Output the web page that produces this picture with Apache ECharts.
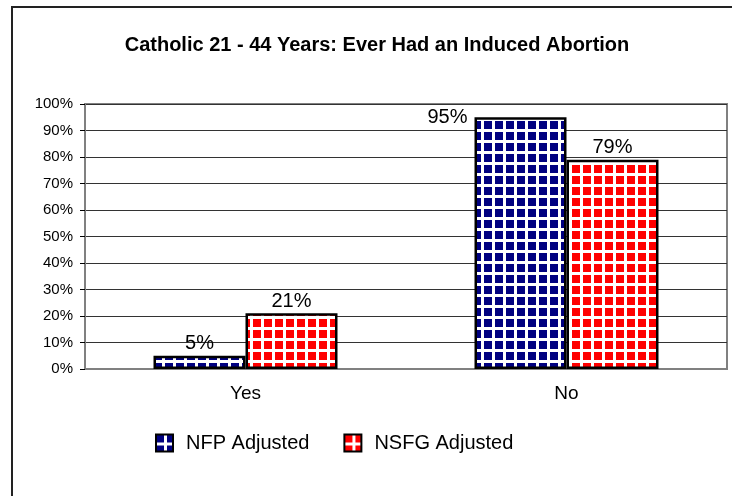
<!DOCTYPE html>
<html>
<head>
<meta charset="utf-8">
<script src="https://cdn.jsdelivr.net/npm/echarts@6/dist/echarts.min.js"></script>
<style>
  html, body { margin: 0; padding: 0; background: #fff; }
  #chart { width: 732px; height: 496px; }
</style>
</head>
<body>
<div id="chart"></div>
<script>
// data
var categories = ['Yes', 'No'];
var nfpAdjusted = [5, 95];
var nsfgAdjusted = [21, 79];
var yTicks = [0, 10, 20, 30, 40, 50, 60, 70, 80, 90, 100];

// small tiled square pattern like the old Excel fill
function makePattern (color) {
    var c = document.createElement('canvas')
    c.width = 11
    c.height = 11
    var ctx = c.getContext('2d')
    ctx.fillStyle = '#ffffff'
    ctx.fillRect(0, 0, 11, 11)
    ctx.fillStyle = color
    ctx.fillRect(0, 0, 8, 8)
    return { image: c, repeat: 'repeat' }
}

var font = 'Liberation Sans, Arial, sans-serif'
var chart = echarts.init(document.getElementById('chart'), null, { renderer: 'canvas' })

chart.setOption({
    animation: false,
    backgroundColor: '#fff',
    textStyle: { fontFamily: font, color: '#000' },
    title: {
        text: 'Catholic 21 - 44 Years: Ever Had an Induced Abortion',
        left: 372,
        textAlign: 'center',
        top: 30,
        textStyle: { fontFamily: font, fontSize: 20, fontWeight: 'bold', color: '#000' }
    },
    graphic: [{
        type: 'rect',
        shape: { x: 12, y: 7, width: 760, height: 520 },
        style: { fill: 'none', stroke: '#222', lineWidth: 2 },
        silent: true,
        z: -1
    }],
    legend: {
        left: 150,
        top: 428,
        itemWidth: 17,
        itemHeight: 17,
        itemGap: 34,
        icon: 'rect',
        textStyle: { fontFamily: font, fontSize: 20, color: '#000', padding: [0, 0, 0, 8] },
        data: ['NFP Adjusted', 'NSFG Adjusted']
    },
    grid: {
        left: 85,
        right: 5,
        top: 104,
        bottom: 127,
        show: true,
        borderColor: '#808080',
        borderWidth: 2,
        containLabel: false
    },
    xAxis: {
        type: 'category',
        data: categories,
        axisTick: { show: false },
        axisLine: { lineStyle: { color: '#808080', width: 2 } },
        axisLabel: { fontFamily: font, fontSize: 19, color: '#000', margin: 15 }
    },
    yAxis: {
        type: 'value',
        min: yTicks[0],
        max: yTicks[yTicks.length - 1],
        interval: 10,
        axisLine: { show: true, lineStyle: { color: '#808080', width: 2 } },
        axisTick: { show: true, length: 5, lineStyle: { color: '#000' } },
        splitLine: { lineStyle: { color: '#333', width: 1 } },
        axisLabel: { fontFamily: font, fontSize: 15, color: '#000', margin: 12, formatter: '{value}%' }
    },
    series: [
        {
            name: 'NFP Adjusted',
            type: 'bar',
            barWidth: 92,
            barGap: '0%',
            itemStyle: { color: makePattern('#000080'), borderColor: '#000', borderWidth: 2.5 },
            label: {
                show: true,
                position: 'top',
                distance: 2,
                fontFamily: font,
                fontSize: 20,
                color: '#000',
                formatter: '{c}%'
            },
            data: nfpAdjusted.map(function (v, i) {
                if (v > 90) {
                    return {
                        value: v,
                        label: { position: [-7, 0], align: 'right', verticalAlign: 'middle' }
                    }
                }
                return v
            })
        },
        {
            name: 'NSFG Adjusted',
            type: 'bar',
            barWidth: 92,
            barGap: '0%',
            itemStyle: { color: makePattern('#ff0000'), borderColor: '#000', borderWidth: 2.5 },
            label: {
                show: true,
                position: 'top',
                distance: 2,
                fontFamily: font,
                fontSize: 20,
                color: '#000',
                formatter: '{c}%'
            },
            data: nsfgAdjusted
        }
    ]
})
</script>
</body>
</html>
